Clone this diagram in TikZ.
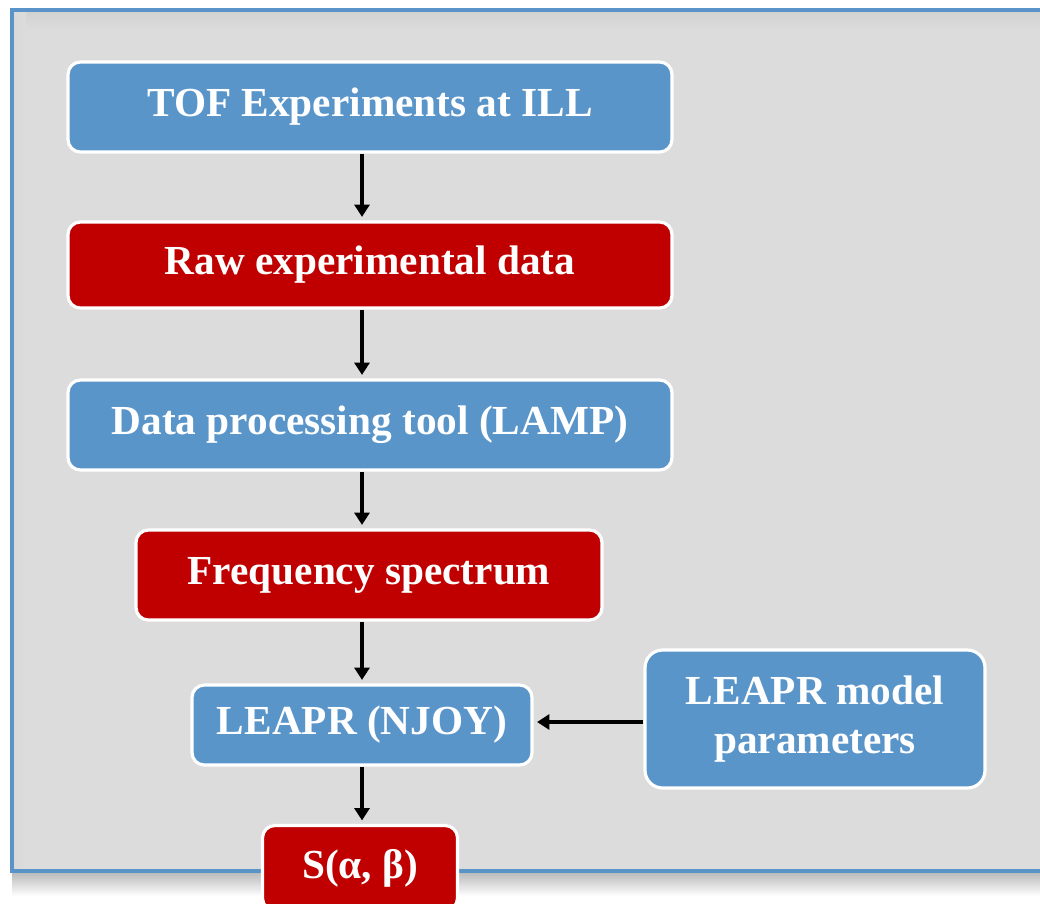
\documentclass[tikz,border=0pt]{standalone}
\usepackage{fontspec}
\setmainfont{Liberation Serif}
\usetikzlibrary{arrows.meta}
\usepackage{xcolor}
\definecolor{boxblue}{HTML}{5A95CA}
\definecolor{boxred}{HTML}{C00000}
\definecolor{panelgray}{HTML}{DCDCDC}
\definecolor{frameblue}{HTML}{5A93C8}

\begin{document}
\begin{tikzpicture}[
    x=0.02cm, y=-0.02cm,
    >={Triangle[width=8.5pt,length=7pt]},
    every node/.style={font=\fontsize{23.5}{28}\selectfont\bfseries, text=white},
    box/.style={draw=white, line width=1.8pt, rounded corners=7pt,
                align=center, inner sep=0pt},
    proc/.style={box, fill=boxblue},
    dat/.style={box, fill=boxred},
    flow/.style={->, line width=2pt, shorten >=2pt},
  ]
  \useasboundingbox (0,0) rectangle (1040,903);
  % panel with its shadows
  \shade[top color=gray!55, bottom color=white] (12,872) rectangle (1060,896);
  \fill[panelgray] (12,10) rectangle (1060,871);
  \shade[top color=gray!35, bottom color=panelgray] (14,12) rectangle (1060,30);
  \shade[left color=gray!30, right color=panelgray] (14,12) rectangle (26,869);
  \draw[frameblue, line width=2.8pt] (1060,10) -- (12,10) -- (12,871) -- (1060,871);
  % flow boxes
  \node[proc, minimum width=12.08cm, minimum height=1.8cm]  (tof)   at (370,107) {TOF Experiments at ILL};
  \node[dat,  minimum width=12.08cm, minimum height=1.72cm] (raw)   at (370,265) {Raw experimental data};
  \node[proc, minimum width=12.08cm, minimum height=1.8cm]  (lamp)  at (370,425) {Data processing tool (LAMP)};
  \node[dat,  minimum width=9.32cm,  minimum height=1.8cm]  (freq)  at (369,575) {Frequency spectrum};
  \node[proc, minimum width=6.8cm,   minimum height=1.6cm]  (leapr) at (362,725) {LEAPR (NJOY)};
  \node[proc, minimum width=6.8cm,   minimum height=2.76cm, rounded corners=10pt] (params) at (815,719)
    {LEAPR model\\parameters};
  \node[dat,  minimum width=3.9cm,   minimum height=1.7cm]  (sab)   at (360,868) {S(α, β)};
  % arrows
  \draw[flow] (tof.south -| leapr)  -- (raw.north -| leapr);
  \draw[flow] (raw.south -| leapr)  -- (lamp.north -| leapr);
  \draw[flow] (lamp.south -| leapr) -- (freq.north -| leapr);
  \draw[flow] (freq.south -| leapr) -- (leapr.north);
  \draw[flow] (leapr.south) -- (sab.north -| leapr);
  \draw[flow] (params.west |- 0,722) -- (leapr.east |- 0,722);
\end{tikzpicture}
\end{document}
